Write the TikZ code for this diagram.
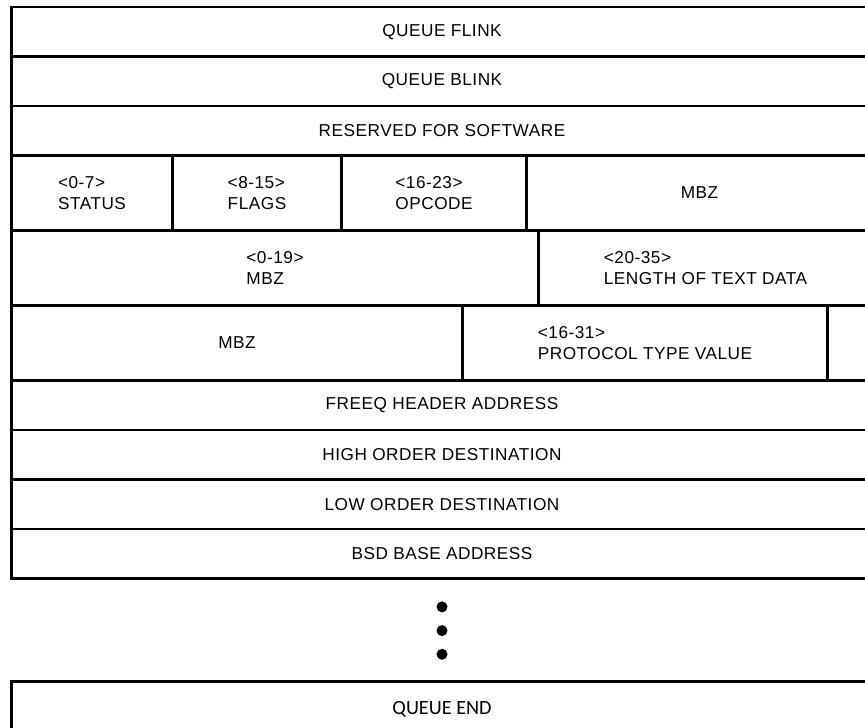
\documentclass[tikz,border=0pt]{standalone}
\usepackage{fontspec}
\setmainfont{Liberation Sans}[LetterSpace=3]
\newfontfamily\endfont{Carlito}
\usetikzlibrary{positioning}

\begin{document}
\begin{tikzpicture}[
  node distance=0pt,
  fld/.style={draw, line width=1.5pt, outer sep=0pt, inner sep=2pt,
              minimum height=0.99cm, align=left,
              font=\fontsize{9.8}{12.3}\selectfont},
  wide/.style={fld, minimum width=17.22cm, align=center},
  bits/.style={fld, minimum width=#1, minimum height=1.5cm},
  dot/.style={circle, fill, inner sep=0pt, minimum size=0.22cm},
]
\useasboundingbox (0,0) rectangle (17.3,-14.54);
\clip (0,0) rectangle (17.3,-14.54);

%% ─── Queue links ──────────────────────────────────────────────────────────────
\node[wide, anchor=north west] (flink) at (0.23,-0.14) {QUEUE FLINK};
\node[wide, below=of flink] (blink) {QUEUE BLINK};
\node[wide, below=of blink] (rsvd)  {RESERVED FOR SOFTWARE};

%% ─── Status / flags / opcode ──────────────────────────────────────────────────
\node[bits=3.22cm, anchor=north west] (status) at (rsvd.south west) {<0-7>\\STATUS};
\node[bits=3.38cm, right=of status] (flags)  {<8-15>\\FLAGS};
\node[bits=3.70cm, right=of flags]  (opcode) {<16-23>\\OPCODE};
\node[bits=6.92cm, right=of opcode] (mbzop)  {MBZ};

%% ─── Text length ──────────────────────────────────────────────────────────────
\node[bits=10.54cm, anchor=north west] (mbzlo) at (status.south west) {<0-19>\\MBZ};
\node[bits=6.68cm, right=of mbzlo] (txtlen) {<20-35>\\LENGTH OF TEXT DATA};

%% ─── Protocol type ────────────────────────────────────────────────────────────
\node[bits=9.02cm, anchor=north west] (mbzpt) at (mbzlo.south west) {MBZ};
\node[bits=7.30cm, right=of mbzpt] (ptype) {<16-31>\\PROTOCOL TYPE VALUE};
\node[bits=0.90cm, right=of ptype] (ptend) {};

%% ─── Addresses ────────────────────────────────────────────────────────────────
\node[wide, anchor=north west] (freeq) at (mbzpt.south west) {FREEQ HEADER ADDRESS};
\node[wide, below=of freeq]  (hidest) {HIGH ORDER DESTINATION};
\node[wide, below=of hidest] (lodest) {LOW ORDER DESTINATION};
\node[wide, below=of lodest] (bsd)    {BSD BASE ADDRESS};

%% ellipsis
\node[dot, below=0.45cm of bsd] (dot1) {};
\node[dot, below=0.24cm of dot1] (dot2) {};
\node[dot, below=0.24cm of dot2] (dot3) {};

\node[wide, below=0.43cm of dot3, minimum height=1.1cm,
      font=\endfont\fontsize{11.5}{13}\selectfont] (qend) {QUEUE END};

\end{tikzpicture}
\end{document}
